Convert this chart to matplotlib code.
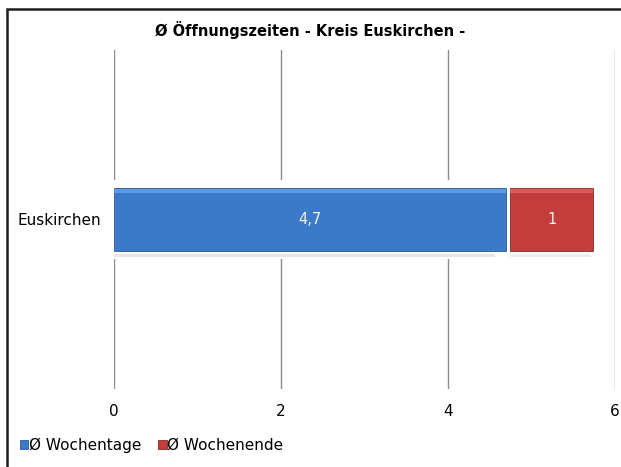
import matplotlib.pyplot as plt
from matplotlib.patches import Rectangle

categories = ['Euskirchen']
wochentage = [4.7]
wochenende = [1]
series_names = ['Ø Wochentage', 'Ø Wochenende']
title = 'Ø Öffnungszeiten - Kreis Euskirchen -'

plt.rcParams['font.family'] = ['DejaVu Sans']

fig = plt.figure(figsize=(6.21, 4.67), dpi=100)
ax = fig.add_axes([0.1836, 0.167, 0.8068, 0.726])
ax.set_ylim(-0.5, 0.5)

gap = 0.04
left_red = [w + gap for w in wochentage]
h = 0.183

# white halo that interrupts the gridlines around the bars
ax.barh(categories, [w + e + gap + 0.06 for w, e in zip(wochentage, wochenende)],
        height=0.235, color='white', zorder=2)
# soft shadow under the bars
ax.barh([-h / 2 - 0.014], [w * 0.97 for w in wochentage], height=0.008,
        color='#e6e6e6', zorder=2.5)
ax.barh([-h / 2 - 0.014], [e * 0.97 for e in wochenende], left=left_red, height=0.008,
        color='#ececec', zorder=2.5)

b1 = ax.barh(categories, wochentage, height=h, color='#3c79c8',
             edgecolor='#2c5a98', linewidth=0.6, zorder=3)
b2 = ax.barh(categories, wochenende, left=left_red, height=h,
             color='#c43d3d', edgecolor='#8a2828', linewidth=0.6, zorder=3)
# soft top highlight for the bevel look
ax.barh([h / 2 - 0.008], wochentage, height=0.012, color='#5d9ae6', zorder=3.5)
ax.barh([h / 2 - 0.008], wochenende, left=left_red, height=0.012, color='#dc5a5a', zorder=3.5)

for bars, vals in ((b1, wochentage), (b2, wochenende)):
    for r, v in zip(bars, vals):
        ax.text(r.get_x() + r.get_width() / 2, r.get_y() + r.get_height() / 2,
                str(v).replace('.', ','), ha='center', va='center',
                color='#f4f4f4', fontsize=10.5, zorder=4)

ax.set_xlim(0, 6)
ax.set_xticks([0, 2, 4, 6])
ax.xaxis.grid(True, color='#8c8c8c', linewidth=1.0)
ax.set_axisbelow(True)
for s in ax.spines.values():
    s.set_visible(False)
ax.tick_params(axis='both', length=0, labelsize=11)
ax.tick_params(axis='y', pad=9)
ax.tick_params(axis='x', pad=11)

fig.text(0.5, 0.936, title, ha='center', va='center', fontsize=10.5, fontweight='bold')

leg = fig.legend([b1, b2], series_names, loc='center left', bbox_to_anchor=(0.032, 0.047),
                 ncol=2, frameon=False, fontsize=11, handlelength=0.55, handleheight=0.55,
                 handletextpad=0.05, columnspacing=1.1, borderaxespad=0, borderpad=0)

# chart frame: left and top edges visible, right and bottom run off the picture
fig.patches.append(Rectangle((7 / 621, -0.05), 1.1, 1 - 9 / 467 + 0.05,
                             transform=fig.transFigure, fill=False,
                             edgecolor='#1e1e1e', linewidth=1.8))

fig.savefig('out.png', dpi=100)
